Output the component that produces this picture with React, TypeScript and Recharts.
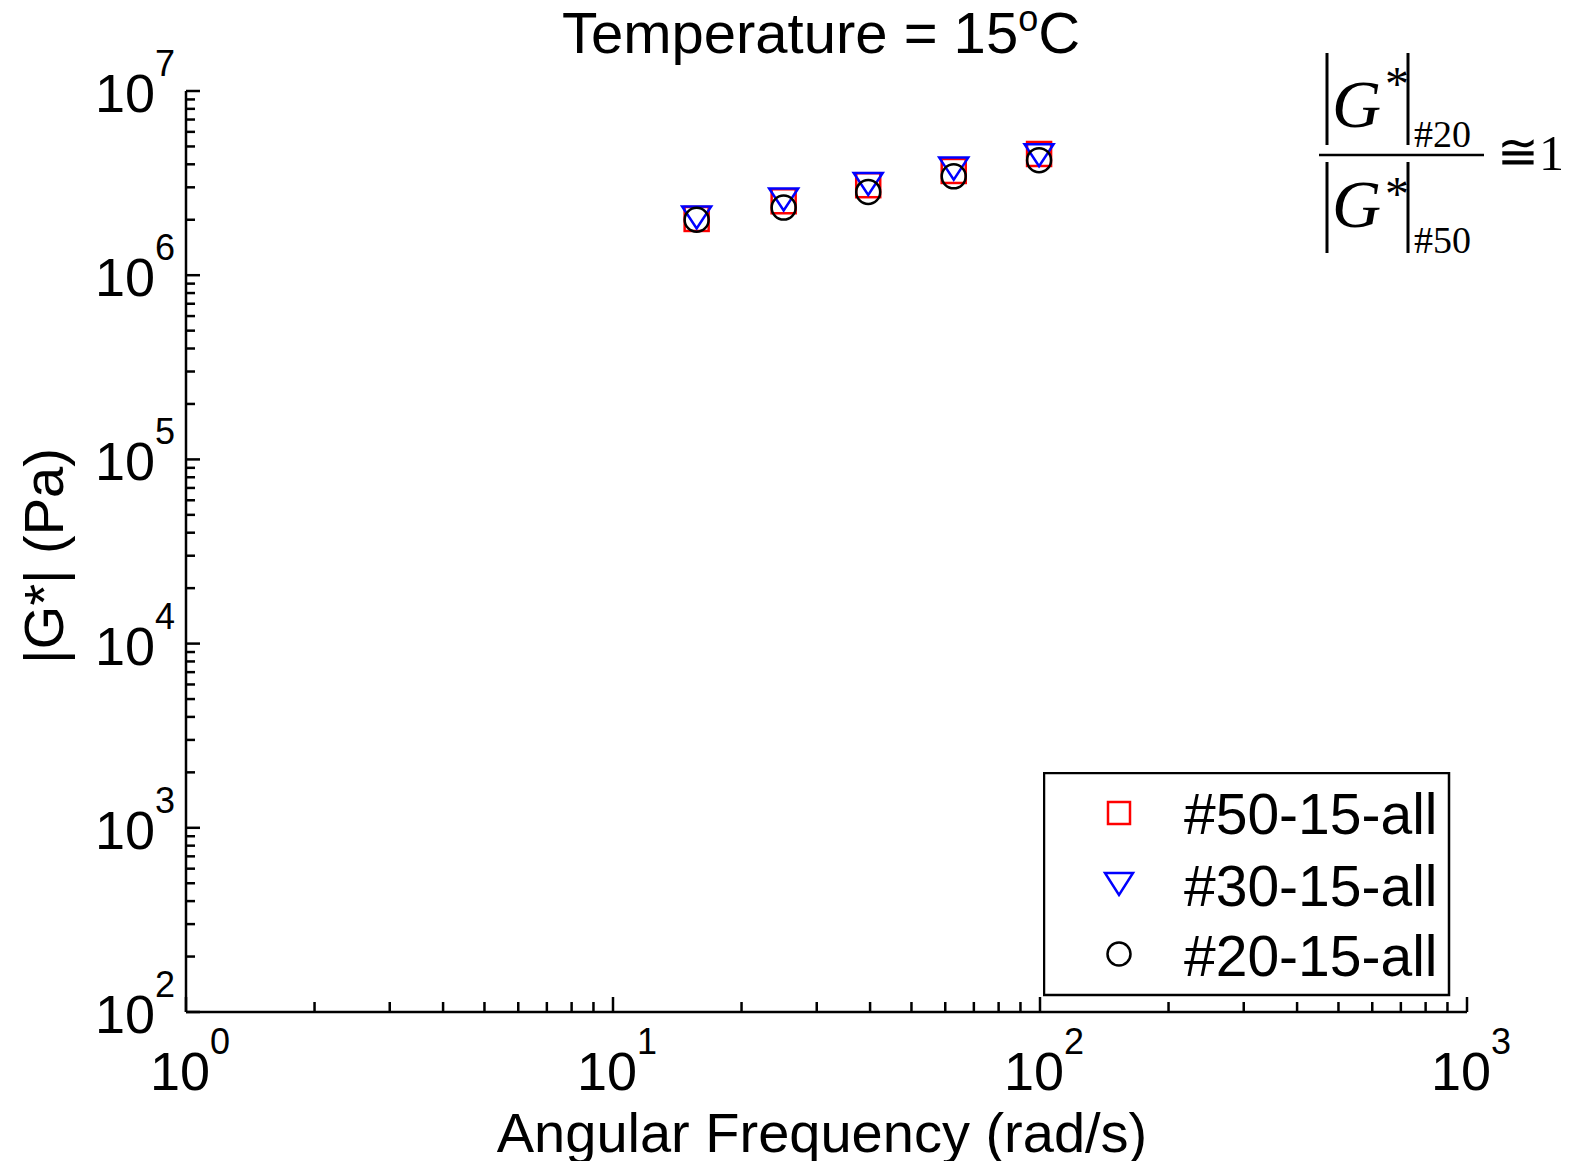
import React from 'react';
import { ScatterChart, Scatter, XAxis, YAxis, Legend } from 'recharts';

// ---- data ----
const frequencies = [15.7, 25.1, 39.6, 62.8, 99.5];
const g50 = [2.02e6, 2.52e6, 3.08e6, 3.68e6, 4.55e6];
const g30 = [2.06e6, 2.58e6, 3.13e6, 3.79e6, 4.48e6];
const g20 = [2.0e6, 2.33e6, 2.83e6, 3.44e6, 4.21e6];
const seriesNames = ['#50-15-all', '#30-15-all', '#20-15-all'];
const seriesColors = ['#ff0000', '#0000ff', '#000000'];
const xDecades = [1, 10, 100, 1000];
const yDecades = [1e2, 1e3, 1e4, 1e5, 1e6, 1e7];
const minorMultipliers = [2, 3, 4, 5, 6, 7, 8, 9];
const titleText = 'Temperature = 15';
const xLabelText = 'Angular Frequency (rad/s)';
const yLabelText = '|G*| (Pa)';

const FONT = '"Liberation Sans", Arial, sans-serif';
const SERIF = '"Liberation Serif", "Times New Roman", serif';

const withMinors = (decades: number[]) => {
  const out: number[] = [];
  decades.forEach((d, i) => {
    out.push(d);
    if (i < decades.length - 1) minorMultipliers.forEach((m) => out.push(d * m));
  });
  return out;
};
const xTicks = withMinors(xDecades);
const yTicks = withMinors(yDecades);

const toPoints = (ys: number[]) => frequencies.map((f, i) => ({ x: f, y: ys[i] }));
const series = [toPoints(g50), toPoints(g30), toPoints(g20)];

const isMajor = (v: number) => {
  const e = Math.log10(v);
  return Math.abs(e - Math.round(e)) < 1e-6;
};

const XTick = (props: any) => {
  const { x, y, payload } = props;
  const v = payload.value;
  const major = isMajor(v);
  return (
    <g>
      <line x1={x} y1={y} x2={x} y2={y - (major ? 15 : 10)} stroke="#000" strokeWidth={2.5} />
      {major && (
        <text x={x + 4} y={y + 78} textAnchor="middle" fontFamily={FONT} fontSize={54} fill="#000">
          10
          <tspan dy={-36} fontSize={36}>{Math.round(Math.log10(v))}</tspan>
        </text>
      )}
    </g>
  );
};

const YTick = (props: any) => {
  const { x, y, payload } = props;
  const v = payload.value;
  const major = isMajor(v);
  return (
    <g>
      <line x1={x} y1={y} x2={x + (major ? 14 : 9)} y2={y} stroke="#000" strokeWidth={2.5} />
      {major && (
        <text x={x - 11} y={y + 21} textAnchor="end" fontFamily={FONT} fontSize={54} fill="#000">
          10
          <tspan dy={-36} fontSize={36}>{Math.round(Math.log10(v))}</tspan>
        </text>
      )}
    </g>
  );
};

const SquareShape = (p: any) => (
  <rect x={p.cx - 12} y={p.cy - 12} width={24} height={24} fill="none" stroke={seriesColors[0]} strokeWidth={2.5} />
);
const TriangleShape = (p: any) => (
  <polygon
    points={`${p.cx - 14.5},${p.cy - 11} ${p.cx + 14.5},${p.cy - 11} ${p.cx},${p.cy + 11}`}
    fill="none"
    stroke={seriesColors[1]}
    strokeWidth={2.5}
  />
);
const CircleShape = (p: any) => (
  <circle cx={p.cx} cy={p.cy} r={12} fill="none" stroke={seriesColors[2]} strokeWidth={2.5} />
);
const shapes = [SquareShape, TriangleShape, CircleShape];

const LegendBox = () => {
  const rowY = [41, 112, 182];
  const textY = [62, 134, 204];
  const mx = 76;
  return (
    <svg width={408} height={226} style={{ display: 'block' }}>
      <rect x={1} y={1} width={405} height={222} fill="#fff" stroke="#000" strokeWidth={2.5} />
      <rect x={mx - 11} y={rowY[0] - 11} width={22} height={22} fill="none" stroke={seriesColors[0]} strokeWidth={2.5} />
      <polygon
        points={`${mx - 14},${rowY[1] - 11} ${mx + 14},${rowY[1] - 11} ${mx},${rowY[1] + 11}`}
        fill="none"
        stroke={seriesColors[1]}
        strokeWidth={2.5}
      />
      <circle cx={mx} cy={rowY[2]} r={11.5} fill="none" stroke={seriesColors[2]} strokeWidth={2.5} />
      {seriesNames.map((n, i) => (
        <text key={n} x={141} y={textY[i]} fontFamily={FONT} fontSize={57} fill="#000">
          {n}
        </text>
      ))}
    </svg>
  );
};

const Overlay = () => (
  <svg
    width={1576}
    height={1161}
    style={{ position: 'absolute', left: 0, top: 0, pointerEvents: 'none' }}
  >
    <text x={821} y={53} textAnchor="middle" fontFamily={FONT} fontSize={58} fill="#000">
      {titleText}
      <tspan dy={-22} fontSize={36}>o</tspan>
      <tspan dy={22}>C</tspan>
    </text>
    <text x={822} y={1152} textAnchor="middle" fontFamily={FONT} fontSize={56} fill="#000">
      {xLabelText}
    </text>
    <text
      x={0}
      y={0}
      transform="translate(63,556) rotate(-90)"
      textAnchor="middle"
      fontFamily={FONT}
      fontSize={56}
      fill="#000"
    >
      {yLabelText}
    </text>
    {/* ratio formula */}
    <g fontFamily={SERIF} fill="#000">
      <line x1={1327} y1={53} x2={1327} y2={145} stroke="#000" strokeWidth={3} />
      <line x1={1408} y1={53} x2={1408} y2={145} stroke="#000" strokeWidth={3} />
      <text x={1332} y={127} fontSize={68} fontStyle="italic">G</text>
      <text x={1385} y={100} fontSize={48}>*</text>
      <text x={1414} y={147} fontSize={38}>#20</text>
      <line x1={1319} y1={155} x2={1484} y2={155} stroke="#000" strokeWidth={2.5} />
      <line x1={1327} y1={162} x2={1327} y2={253} stroke="#000" strokeWidth={3} />
      <line x1={1408} y1={162} x2={1408} y2={253} stroke="#000" strokeWidth={3} />
      <text x={1332} y={227} fontSize={68} fontStyle="italic">G</text>
      <text x={1385} y={210} fontSize={48}>*</text>
      <text x={1414} y={253} fontSize={38}>#50</text>
      <text x={1497} y={169} fontSize={50}>≅</text>
      <text x={1539} y={170} fontSize={50}>1</text>
    </g>
  </svg>
);

export default function App() {
  return (
    <div
      style={{
        position: 'absolute',
        left: 0,
        top: 0,
        width: 1576,
        height: 1161,
        overflow: 'hidden',
        background: '#fff',
      }}
    >
      <ScatterChart width={1576} height={1161} margin={{ top: 91, right: 109, left: 0, bottom: 0 }}>
        <XAxis
          type="number"
          dataKey="x"
          scale="log"
          domain={[1, 1000]}
          allowDataOverflow
          ticks={xTicks}
          interval={0}
          tick={<XTick />}
          tickLine={false}
          tickSize={0}
          tickMargin={0}
          height={149}
          axisLine={{ stroke: '#000', strokeWidth: 2.5 }}
        />
        <YAxis
          type="number"
          dataKey="y"
          scale="log"
          domain={[100, 1e7]}
          allowDataOverflow
          ticks={yTicks}
          interval={0}
          tick={<YTick />}
          tickLine={false}
          tickSize={0}
          tickMargin={0}
          width={186}
          axisLine={{ stroke: '#000', strokeWidth: 2.5 }}
        />
        {series.map((d, i) => (
          <Scatter
            key={seriesNames[i]}
            name={seriesNames[i]}
            data={d}
            shape={shapes[i]}
            isAnimationActive={false}
          />
        ))}
        <Legend
          layout="vertical"
          align="center"
          verticalAlign="middle"
          content={<LegendBox />}
          wrapperStyle={{ position: 'absolute', left: 1043, top: 772, width: 408, height: 226 }}
        />
      </ScatterChart>
      <Overlay />
    </div>
  );
}
